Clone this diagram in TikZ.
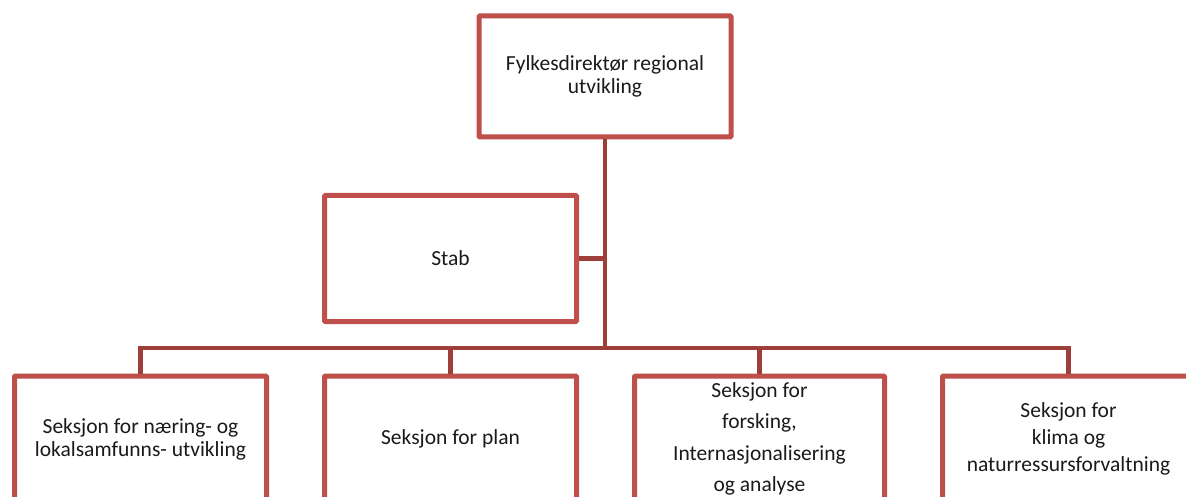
\documentclass[tikz,border=0pt]{standalone}
\usepackage{fontspec}
\setmainfont{Carlito}
\definecolor{boxred}{HTML}{BE4F4B}
\definecolor{linered}{HTML}{9E3E3B}
\definecolor{txt}{HTML}{1A1A1A}
\tikzset{
  orgbox/.style={draw=boxred, line width=5pt, fill=white, rounded corners=1pt,
    minimum width=252pt, minimum height=126pt, align=center, text=txt,
    font=\fontsize{21.5}{23}\selectfont, inner sep=0pt},
  link/.style={draw=linered, line width=4.5pt}
}
\begin{document}
\begin{tikzpicture}[x=1pt,y=1pt]
\useasboundingbox (0,0) rectangle (1186,-497);
\clip (0,0) rectangle (1186,-497);
\node[orgbox, minimum height=121pt] (top) at (605,-76.5) {Fylkesdirektør regional\\utvikling};
\node[orgbox] (stab) at (450.5,-258.5) {Stab};
\coordinate (bus) at (605,-348);
\node[orgbox] (b1) at (140.5,-439) {Seksjon for næring- og\\lokalsamfunns- utvikling};
\node[orgbox] (b2) at (450.5,-439) {Seksjon for plan};
\node[orgbox, minimum width=250pt, font=\fontsize{21.5}{31.5}\selectfont] (b3) at (759.5,-439) {Seksjon for\\forsking,\\Internasjonalisering\\og analyse};
\node[orgbox, font=\fontsize{21.5}{27}\selectfont] (b4) at (1068.5,-439) {Seksjon for\\klima og\\naturressursforvaltning};
\draw[link] (top.south) -- (bus);
\draw[link] (stab.east) -- (stab.east -| bus);
\draw[link] (bus) -| (b1.north);
\draw[link] (bus) -| (b2.north);
\draw[link] (bus) -| (b3.north);
\draw[link] (bus) -| (b4.north);
\end{tikzpicture}
\end{document}
